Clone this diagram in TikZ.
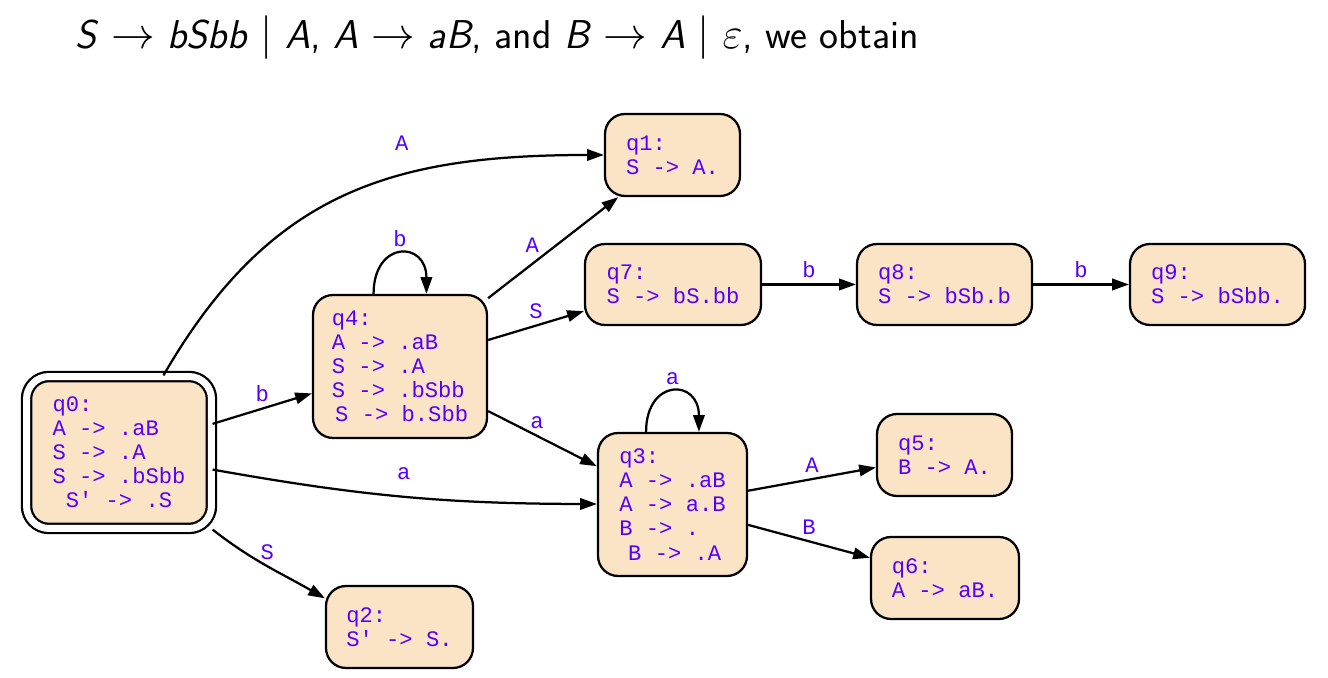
\documentclass[tikz,border=0pt]{standalone}
\usepackage{fontspec}
\setmonofont{Liberation Mono}
\usetikzlibrary{arrows.meta,positioning}
\definecolor{itemtext}{RGB}{85,0,255}
\definecolor{itemfill}{RGB}{251,228,198}
\newcommand{\itemfont}{\ttfamily\fontsize{12.6}{13.7}\selectfont}
\newcommand{\gv}[1]{\textit{#1}}
\tikzset{
  state/.style={draw, line width=0.045cm, fill=itemfill, rounded corners=0.4cm,
    align=left, text=itemtext, font=\itemfont},
  edgelabel/.style={text=itemtext, font=\itemfont},
}
\begin{document}
\begin{tikzpicture}[x=0.02cm, y=0.02cm]
      \useasboundingbox (0,0) rectangle (1328,678);
      \node[anchor=base west, inner sep=0pt, font=\sffamily\fontsize{22.9}{27}\selectfont] (title) at (75,629)
        {\gv{S} $\rightarrow$ \gv{bSbb} $\mid$ \gv{A}, \gv{A} $\rightarrow$ \gv{aB}, and \gv{B} $\rightarrow$ \gv{A} $\mid$ $\varepsilon$, we obtain};
      \draw
        (119,225.5) node[state, double, double distance=0.14cm, rounded corners=0.45cm,
          minimum width=3.7cm, minimum height=3.04cm] (q0)
          {q0:\\A -> .aB\\S -> .A\\S -> .bSbb\\\hspace*{0.6em}S' -> .S}
        (672.5,523) node[state, minimum width=2.7cm, minimum height=1.64cm] (q1)
          {q1:\\S -> A.}
        (399.5,51) node[state, minimum width=2.94cm, minimum height=1.64cm] (q2)
          {q2:\\S' -> S.}
        (672.5,173.5) node[state, minimum width=2.98cm, minimum height=2.86cm] (q3)
          {q3:\\A -> .aB\\A -> a.B\\B -> .\\\hspace*{0.4em}B -> .A}
        (400,311.5) node[state, minimum width=3.48cm, minimum height=2.86cm] (q4)
          {q4:\\A -> .aB\\S -> .A\\S -> .bSbb\\\hspace*{0.15em}S -> b.Sbb}
        (944.5,223) node[state, minimum width=2.7cm, minimum height=1.64cm] (q5)
          {q5:\\B -> A.}
        (945,100) node[state, minimum width=2.96cm, minimum height=1.64cm] (q6)
          {q6:\\A -> aB.}
        (673,393.5) node[state, minimum width=3.52cm, minimum height=1.62cm] (q7)
          {q7:\\S -> bS.bb}
        (944.5,393.5) node[state, minimum width=3.5cm, minimum height=1.62cm] (q8)
          {q8:\\S -> bSb.b}
        (1217.5,393.5) node[state, minimum width=3.5cm, minimum height=1.62cm] (q9)
          {q9:\\S -> bSbb.};
      \begin{scope}[-{Triangle[length=9.5pt,width=6.5pt]}, line width=0.045cm]
        \draw (q0) to[out=60, in=180, looseness=1.1] node[edgelabel, pos=.63, above=0.36cm] {A} (q1);
        \draw (q0) to node[edgelabel, above] {b} (q4);
        \draw (q0) to[bend right=5] node[edgelabel, above=0.2cm] {a} (q3);
        \draw (q0.south east) to[out=-38, in=150] node[edgelabel, above] {S} (q2.159);
        \draw (q4.110) to[out=90, in=90, looseness=2.6] node[edgelabel, above] {b} (q4.70);
        \draw (q4) to node[edgelabel, pos=.52, left=0.2cm] {A} (q1);
        \draw (q4) to node[edgelabel, above] {S} (q7);
        \draw (q4) to node[edgelabel, pos=.45, above] {a} (q3);
        \draw (q3.110) to[out=90, in=90, looseness=2.6] node[edgelabel, above] {a} (q3.70);
        \draw (q3) to node[edgelabel, above] {A} (q5);
        \draw (q3) to node[edgelabel, above] {B} (q6);
        \draw (q7) to node[edgelabel, above] {b} (q8);
        \draw (q8) to node[edgelabel, above] {b} (q9);
      \end{scope}
    \end{tikzpicture}
\end{document}
